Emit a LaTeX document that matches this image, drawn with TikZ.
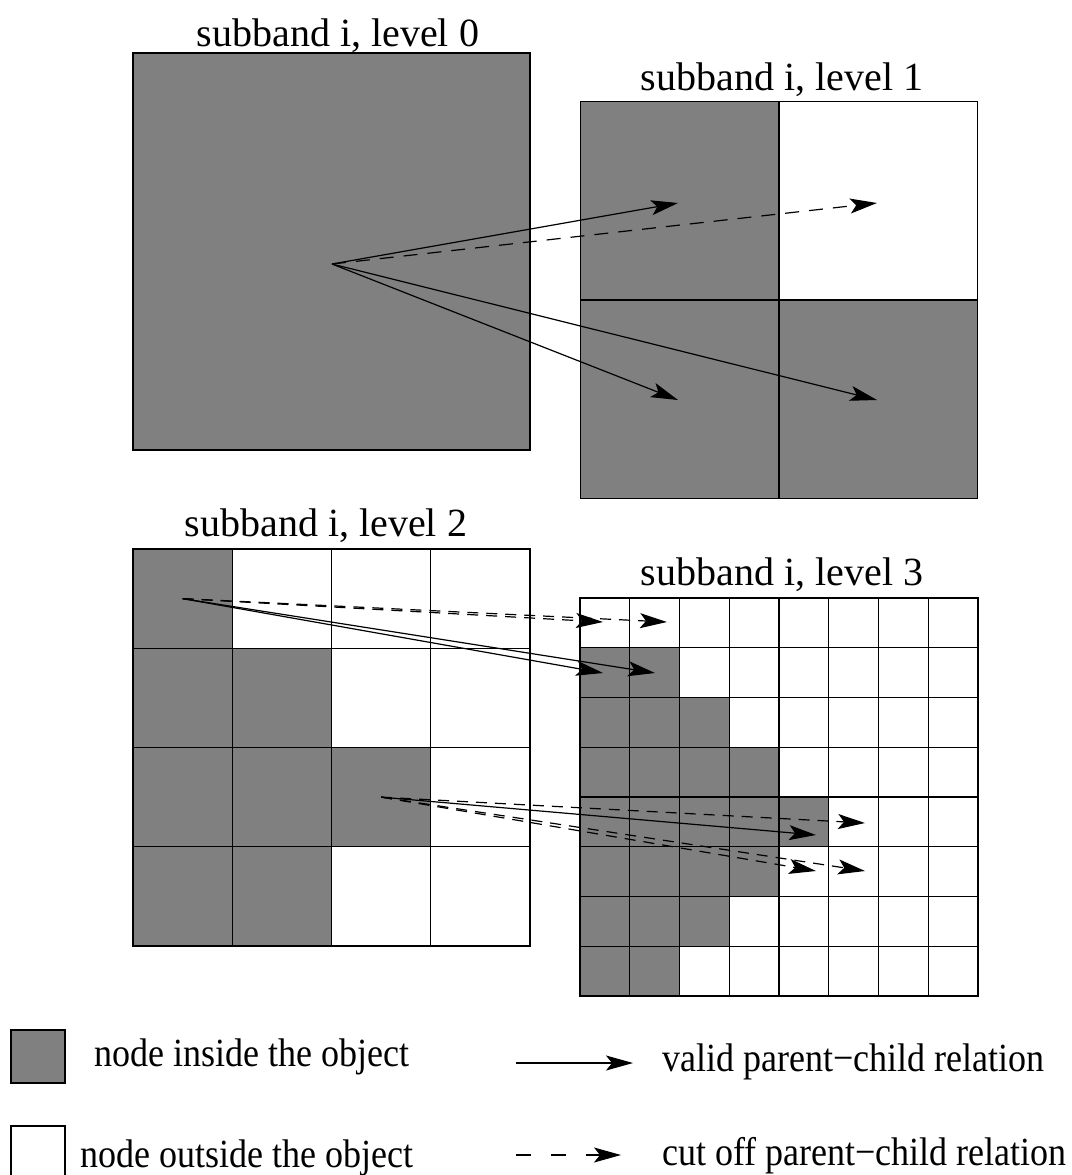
\documentclass[tikz,border=0pt]{standalone}
\usepackage{fontspec}
\setmainfont{Liberation Serif}
\usetikzlibrary{arrows.meta}
\definecolor{objgray}{gray}{0.5}
\newcommand{\tallleg}[1]{\scalebox{1}[1.11]{#1}}
\begin{document}
\begin{tikzpicture}[x=1pt,y=-1pt,
  cellbox/.style={draw=black, line width=1.3pt, inner sep=0pt, outer sep=0pt, rectangle},
  cellA/.style={cellbox, minimum size=397pt},
  cellB/.style={cellbox, minimum size=198.5pt},
  cellC/.style={cellbox, minimum size=99.25pt},
  cellD/.style={cellbox, minimum size=49.75pt},
  rel/.style={line width=1.2pt, -{Stealth[length=27pt,width=15pt,inset=6pt]}},
  cutA/.style={rel, dash pattern=on 14pt off 10pt},
  cutB/.style={rel, dash pattern=on 11pt off 8pt},
  cutL/.style={rel, dash pattern=on 15pt off 20pt},
  titletext/.style={font=\fontsize{40}{44}\selectfont, anchor=base, inner sep=0pt},
  legtext/.style={font=\fontsize{36}{40}\selectfont, anchor=base west, inner sep=0pt},
  legbox/.style={draw=black, line width=1.3pt, inner sep=0pt, minimum width=54pt, minimum height=53pt}]
\useasboundingbox (0,0) rectangle (1071,1175);

% titles
\node[titletext] (t0) at (338,46) {subband i, level 0};
\node[titletext] (t1) at (782,90) {subband i, level 1};
\node[titletext] (t2) at (326,536) {subband i, level 2};
\node[titletext] (t3) at (782,585) {subband i, level 3};

% level 0
\node[cellA, fill=objgray] (c0) at (331.5,251.5) {};

% level 1
\foreach \r/\k in {0/1,1/2}{
  \foreach \c in {0,1}{
    \ifnum\c<\k\relax\def\cf{objgray}\else\def\cf{white}\fi
    \node[cellB, fill=\cf] (c1-\r-\c) at ({580.5+(\c+0.5)*198.5},{101.5+(\r+0.5)*198.5}) {};
  }
}

% level 2
\foreach \r/\k in {0/1,1/2,2/3,3/2}{
  \foreach \c in {0,...,3}{
    \ifnum\c<\k\relax\def\cf{objgray}\else\def\cf{white}\fi
    \node[cellC, fill=\cf] (c2-\r-\c) at ({133+(\c+0.5)*99.25},{549+(\r+0.5)*99.25}) {};
  }
}

% level 3
\foreach \r/\k in {0/0,1/2,2/3,3/4,4/5,5/4,6/3,7/2}{
  \foreach \c in {0,...,7}{
    \ifnum\c<\k\relax\def\cf{objgray}\else\def\cf{white}\fi
    \node[cellD, fill=\cf] (c3-\r-\c) at ({580+(\c+0.5)*49.75},{598+(\r+0.5)*49.75}) {};
  }
}

% level 0 -> level 1
\coordinate (p0) at (332,264);
\coordinate (q00) at (678,203);
\coordinate (q01) at (877,203);
\coordinate (q10) at (678,400);
\coordinate (q11) at (877,400);
\draw[rel] (p0) -- (q00);
\draw[cutA] (p0) -- (q01);
\draw[rel] (p0) -- (q10);
\draw[rel] (p0) -- (q11);

% level 2 -> level 3 (top-left node)
\coordinate (a00) at (603,622);
\coordinate (a01) at (667,622);
\coordinate (a10) at (603,673);
\coordinate (a11) at (655,673);
\draw[cutB] (c2-0-0.center) -- (a00);
\draw[cutB] (c2-0-0.center) -- (a01);
\draw[rel] (c2-0-0.center) -- (a10);
\draw[rel] (c2-0-0.center) -- (a11);

% level 2 -> level 3 (middle node)
\coordinate (b01) at (865,823);
\coordinate (b00) at (816,835);
\coordinate (b10) at (816,871);
\coordinate (b11) at (865,871);
\draw[cutB] (c2-2-2.center) -- (b01);
\draw[rel] (c2-2-2.center) -- (b00);
\draw[cutB] (c2-2-2.center) -- (b10);
\draw[cutB] (c2-2-2.center) -- (b11);

% legend
\node[legbox, fill=objgray] (lg1) at (38,1056.5) {};
\node[legtext] (lt1) at (94,1066) {\tallleg{node inside the object}};
\node[legbox, fill=white, minimum height=60pt] (lg2) at (38,1156) {};
\node[legtext] (lt2) at (80,1167) {\tallleg{node outside the object}};

\coordinate (ls1) at (516,1063);
\coordinate (le1) at (633,1063);
\draw[rel] (ls1) -- (le1);
\node[legtext] (lt3) at (662,1071) {\tallleg{valid parent−child relation}};

\coordinate (ls2) at (516,1155);
\coordinate (le2) at (621,1155);
\draw[cutL] (ls2) -- (le2);
\node[legtext] (lt4) at (662,1165) {\tallleg{cut off parent−child relation}};
\end{tikzpicture}
\end{document}
